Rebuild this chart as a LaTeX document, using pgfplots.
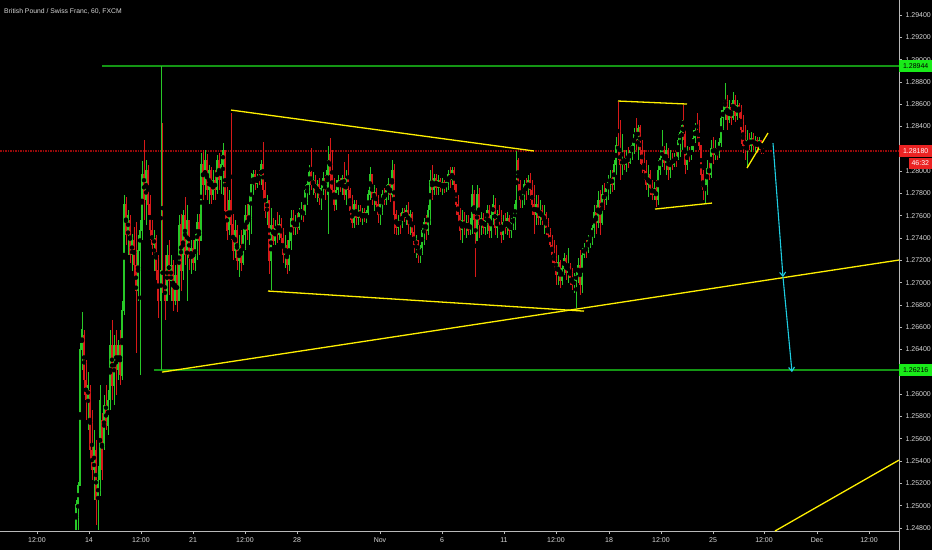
\documentclass[border=0pt]{standalone}
\usepackage{fontspec}
\setmainfont{Liberation Sans}
\usepackage{pgfplots}
\usepackage{pgfplotstable}
\pgfplotsset{compat=1.18}
\usetikzlibrary{arrows.meta}
\definecolor{cgreen}{RGB}{40,200,40}
\definecolor{cred}{RGB}{215,25,25}
\definecolor{hgreen}{RGB}{20,150,20}
\definecolor{hred}{RGB}{150,10,10}
\definecolor{lblgreen}{RGB}{25,235,25}
\definecolor{lblred}{RGB}{235,35,35}
\definecolor{ylw}{RGB}{255,240,0}
\definecolor{cyanc}{RGB}{30,205,225}
\definecolor{axgray}{RGB}{185,185,185}
\definecolor{ticktext}{RGB}{215,215,215}

\pgfplotstableread{
x o h l c
76 1.2478 1.2505 1.2478 1.2501
78 1.2501 1.2521 1.2478 1.2518
80 1.2518 1.2646 1.2518 1.2640
82 1.2640 1.2674 1.2622 1.2658
84 1.2653 1.2658 1.2599 1.2613
86 1.2613 1.2631 1.2577 1.2595
88 1.2595 1.2620 1.2568 1.2608
90 1.2604 1.2608 1.2541 1.2550
92 1.2550 1.2586 1.2523 1.2532
94 1.2532 1.2568 1.2505 1.2554
96 1.2550 1.2559 1.2483 1.2505
98 1.2505 1.2536 1.2478 1.2523
100 1.2523 1.2608 1.2509 1.2595
102 1.2577 1.2583 1.2523 1.2532
104 1.2554 1.2599 1.2550 1.2590
106 1.2590 1.2608 1.2568 1.2572
108 1.2572 1.2604 1.2563 1.2595
110 1.2595 1.2658 1.2586 1.2644
112 1.2644 1.2667 1.2595 1.2608
114 1.2608 1.2653 1.2590 1.2644
116 1.2644 1.2658 1.2599 1.2622
118 1.2622 1.2649 1.2613 1.2644
120 1.2644 1.2658 1.2608 1.2617
122 1.2617 1.2684 1.2613 1.2675
124 1.2675 1.2779 1.2671 1.2770
126 1.2770 1.2777 1.2734 1.2743
128 1.2743 1.2765 1.2725 1.2761
130 1.2756 1.2761 1.2718 1.2725
132 1.2725 1.2744 1.2711 1.2738
134 1.2738 1.2750 1.2705 1.2716
136 1.2716 1.2754 1.2637 1.2693
138 1.2693 1.2743 1.2684 1.2729
140 1.2729 1.2756 1.2617 1.2747
142 1.2747 1.2809 1.2738 1.2797
144 1.2797 1.2828 1.2756 1.2774
146 1.2774 1.2810 1.2752 1.2801
148 1.2801 1.2806 1.2761 1.2770
150 1.2770 1.2779 1.2738 1.2747
152 1.2747 1.2756 1.2725 1.2734
154 1.2734 1.2747 1.2711 1.2740
156 1.2740 1.2743 1.2702 1.2711
158 1.2711 1.2725 1.2668 1.2684
161 1.2684 1.2894 1.2622 1.2711
162.5 1.2720 1.2843 1.2691 1.2698
165 1.2698 1.2725 1.2667 1.2684
167 1.2684 1.2734 1.2684 1.2725
169 1.2725 1.2738 1.2689 1.2702
171 1.2702 1.2725 1.2684 1.2716
173 1.2716 1.2720 1.2675 1.2684
175 1.2684 1.2716 1.2680 1.2707
177 1.2707 1.2718 1.2674 1.2684
179 1.2684 1.2761 1.2684 1.2752
181 1.2752 1.2762 1.2693 1.2711
183 1.2711 1.2765 1.2702 1.2761
185 1.2761 1.2777 1.2716 1.2725
187 1.2725 1.2770 1.2684 1.2756
189 1.2756 1.2756 1.2711 1.2722
191 1.2722 1.2738 1.2708 1.2731
193 1.2731 1.2738 1.2711 1.2718
195 1.2718 1.2744 1.2711 1.2738
197 1.2738 1.2762 1.2720 1.2754
199 1.2754 1.2762 1.2725 1.2738
201 1.2738 1.2816 1.2738 1.2806
203 1.2806 1.2819 1.2774 1.2788
205 1.2788 1.2819 1.2779 1.2810
207 1.2810 1.2815 1.2774 1.2783
209 1.2783 1.2806 1.2771 1.2801
211 1.2801 1.2804 1.2771 1.2779
213 1.2779 1.2801 1.2774 1.2792
215 1.2792 1.2801 1.2774 1.2783
217 1.2783 1.2815 1.2780 1.2810
219 1.2810 1.2816 1.2783 1.2792
221 1.2792 1.2815 1.2780 1.2806
223 1.2806 1.2825 1.2779 1.2819
225 1.2819 1.2819 1.2756 1.2765
227 1.2765 1.2786 1.2738 1.2747
229 1.2747 1.2783 1.2743 1.2774
231 1.2774 1.2852 1.2738 1.2752
233 1.2752 1.2762 1.2720 1.2729
235 1.2729 1.2756 1.2722 1.2747
237 1.2747 1.2752 1.2711 1.2720
239 1.2720 1.2743 1.2705 1.2734
241 1.2734 1.2747 1.2711 1.2718
243 1.2718 1.2750 1.2716 1.2743
245 1.2743 1.2770 1.2729 1.2761
247 1.2761 1.2771 1.2738 1.2747
249 1.2747 1.2779 1.2734 1.2770
251 1.2770 1.2798 1.2744 1.2788
253 1.2788 1.2801 1.2779 1.2797
255 1.2797 1.2801 1.2783 1.2789
257 1.2789 1.2798 1.2785 1.2794
259 1.2794 1.2801 1.2788 1.2792
261 1.2792 1.2810 1.2788 1.2806
263 1.2806 1.2826 1.2774 1.2783
265 1.2783 1.2790 1.2758 1.2765
267 1.2765 1.2779 1.2752 1.2774
269 1.2774 1.2774 1.2708 1.2720
271 1.2720 1.2767 1.2693 1.2752
273 1.2752 1.2758 1.2734 1.2738
275 1.2738 1.2756 1.2734 1.2749
277 1.2749 1.2763 1.2736 1.2743
279 1.2743 1.2761 1.2738 1.2752
281 1.2752 1.2758 1.2736 1.2740
283 1.2740 1.2749 1.2718 1.2725
285 1.2725 1.2743 1.2713 1.2734
287 1.2734 1.2738 1.2708 1.2716
289 1.2716 1.2747 1.2711 1.2738
291 1.2738 1.2765 1.2729 1.2758
293 1.2758 1.2765 1.2743 1.2749
295 1.2749 1.2761 1.2743 1.2754
297 1.2754 1.2763 1.2744 1.2749
299 1.2749 1.2767 1.2747 1.2763
301 1.2763 1.2772 1.2756 1.2765
303 1.2765 1.2770 1.2754 1.2761
305 1.2761 1.2788 1.2761 1.2783
307 1.2783 1.2794 1.2770 1.2788
309 1.2788 1.2806 1.2779 1.2799
311 1.2799 1.2821 1.2783 1.2788
313 1.2788 1.2799 1.2779 1.2792
315 1.2792 1.2797 1.2776 1.2781
317 1.2781 1.2792 1.2772 1.2788
319 1.2788 1.2794 1.2770 1.2776
321 1.2776 1.2790 1.2765 1.2785
323 1.2785 1.2799 1.2779 1.2794
325 1.2794 1.2797 1.2774 1.2783
327 1.2783 1.2810 1.2779 1.2801
328.5 1.2801 1.2823 1.2744 1.2815
330 1.2815 1.2830 1.2783 1.2797
332 1.2797 1.2819 1.2779 1.2783
334 1.2783 1.2794 1.2764 1.2770
336 1.2770 1.2792 1.2765 1.2783
338 1.2783 1.2797 1.2779 1.2792
340 1.2792 1.2794 1.2781 1.2787
342 1.2787 1.2797 1.2779 1.2794
344 1.2794 1.2808 1.2774 1.2779
346 1.2779 1.2801 1.2770 1.2794
348 1.2794 1.2815 1.2774 1.2783
350 1.2783 1.2785 1.2756 1.2765
352 1.2765 1.2779 1.2749 1.2754
354 1.2754 1.2774 1.2749 1.2770
356 1.2770 1.2774 1.2752 1.2758
358 1.2758 1.2770 1.2752 1.2765
360 1.2765 1.2770 1.2754 1.2758
362 1.2758 1.2767 1.2752 1.2763
364 1.2763 1.2767 1.2754 1.2758
366 1.2758 1.2765 1.2754 1.2763
368 1.2763 1.2783 1.2761 1.2779
370 1.2779 1.2804 1.2774 1.2797
372 1.2797 1.2797 1.2770 1.2776
374 1.2776 1.2788 1.2764 1.2781
376 1.2781 1.2785 1.2765 1.2770
378 1.2770 1.2779 1.2754 1.2761
380 1.2761 1.2774 1.2752 1.2770
382 1.2770 1.2783 1.2761 1.2779
384 1.2779 1.2785 1.2770 1.2774
386 1.2774 1.2788 1.2770 1.2783
388 1.2783 1.2794 1.2774 1.2788
390 1.2788 1.2792 1.2772 1.2779
392 1.2779 1.2810 1.2774 1.2801
394 1.2801 1.2806 1.2744 1.2761
396 1.2761 1.2765 1.2743 1.2749
398 1.2749 1.2761 1.2743 1.2756
400 1.2756 1.2763 1.2744 1.2752
402 1.2752 1.2767 1.2749 1.2763
404 1.2763 1.2767 1.2754 1.2758
406 1.2758 1.2770 1.2752 1.2765
408 1.2765 1.2772 1.2744 1.2752
410 1.2752 1.2765 1.2743 1.2761
412 1.2761 1.2763 1.2740 1.2745
414 1.2745 1.2752 1.2727 1.2734
416 1.2734 1.2743 1.2722 1.2738
418 1.2738 1.2738 1.2718 1.2725
420 1.2725 1.2734 1.2718 1.2731
422 1.2731 1.2752 1.2725 1.2747
424 1.2747 1.2758 1.2734 1.2754
426 1.2754 1.2761 1.2738 1.2747
428 1.2747 1.2770 1.2743 1.2765
430 1.2765 1.2801 1.2752 1.2792
432 1.2792 1.2806 1.2774 1.2783
434 1.2783 1.2798 1.2779 1.2794
436 1.2794 1.2798 1.2779 1.2785
438 1.2785 1.2797 1.2779 1.2792
440 1.2792 1.2794 1.2781 1.2785
442 1.2785 1.2794 1.2779 1.2790
444 1.2790 1.2792 1.2780 1.2785
446 1.2785 1.2794 1.2781 1.2790
448 1.2790 1.2801 1.2783 1.2797
450 1.2797 1.2804 1.2785 1.2792
452 1.2792 1.2804 1.2788 1.2801
454 1.2801 1.2804 1.2783 1.2788
456 1.2788 1.2788 1.2761 1.2770
458 1.2770 1.2779 1.2754 1.2761
460 1.2761 1.2767 1.2738 1.2747
462 1.2747 1.2765 1.2736 1.2756
464 1.2756 1.2763 1.2743 1.2749
466 1.2749 1.2761 1.2740 1.2754
468 1.2754 1.2761 1.2743 1.2747
470 1.2747 1.2758 1.2743 1.2752
472 1.2752 1.2788 1.2744 1.2779
474 1.2779 1.2783 1.2744 1.2756
475.5 1.2756 1.2761 1.2705 1.2738
477 1.2738 1.2788 1.2738 1.2779
479 1.2779 1.2785 1.2740 1.2752
481 1.2752 1.2763 1.2743 1.2758
483 1.2758 1.2763 1.2744 1.2749
485 1.2749 1.2761 1.2743 1.2756
487 1.2756 1.2770 1.2744 1.2765
489 1.2765 1.2770 1.2740 1.2747
491 1.2747 1.2765 1.2740 1.2761
493 1.2761 1.2779 1.2752 1.2770
495 1.2770 1.2776 1.2743 1.2749
497 1.2749 1.2765 1.2740 1.2761
499 1.2761 1.2770 1.2747 1.2752
501 1.2752 1.2765 1.2736 1.2743
503 1.2743 1.2761 1.2738 1.2754
505 1.2754 1.2763 1.2744 1.2749
507 1.2749 1.2763 1.2743 1.2758
509 1.2758 1.2761 1.2740 1.2747
511 1.2747 1.2758 1.2740 1.2754
513 1.2754 1.2763 1.2747 1.2758
515 1.2758 1.2774 1.2747 1.2770
516.5 1.2770 1.2818 1.2761 1.2810
518 1.2810 1.2812 1.2779 1.2788
520 1.2788 1.2792 1.2767 1.2774
522 1.2774 1.2785 1.2767 1.2779
524 1.2779 1.2792 1.2770 1.2788
526 1.2788 1.2794 1.2774 1.2783
528 1.2783 1.2797 1.2779 1.2792
530 1.2792 1.2798 1.2774 1.2783
532 1.2783 1.2792 1.2761 1.2770
534 1.2770 1.2788 1.2744 1.2761
536 1.2761 1.2779 1.2752 1.2770
538 1.2770 1.2779 1.2752 1.2758
540 1.2758 1.2774 1.2752 1.2765
542 1.2765 1.2770 1.2752 1.2756
544 1.2756 1.2770 1.2744 1.2761
546 1.2761 1.2763 1.2743 1.2749
548 1.2749 1.2758 1.2738 1.2743
550 1.2743 1.2749 1.2729 1.2734
552 1.2734 1.2743 1.2718 1.2725
554 1.2725 1.2738 1.2711 1.2718
556 1.2718 1.2734 1.2698 1.2707
558 1.2707 1.2725 1.2698 1.2718
560 1.2718 1.2720 1.2695 1.2702
562 1.2702 1.2718 1.2698 1.2713
564 1.2713 1.2727 1.2707 1.2722
566 1.2722 1.2725 1.2702 1.2709
568 1.2709 1.2731 1.2700 1.2716
570 1.2716 1.2718 1.2698 1.2704
572 1.2704 1.2713 1.2693 1.2698
574 1.2698 1.2709 1.2691 1.2702
576 1.2702 1.2711 1.2677 1.2707
578 1.2707 1.2722 1.2700 1.2716
580 1.2716 1.2729 1.2689 1.2698
582 1.2698 1.2731 1.2691 1.2725
584 1.2725 1.2736 1.2722 1.2731
586 1.2731 1.2738 1.2722 1.2729
588 1.2729 1.2743 1.2727 1.2738
590 1.2738 1.2744 1.2731 1.2742
592 1.2742 1.2752 1.2734 1.2749
594 1.2749 1.2770 1.2740 1.2763
596 1.2763 1.2770 1.2744 1.2754
598 1.2754 1.2782 1.2749 1.2774
600 1.2774 1.2783 1.2743 1.2754
602 1.2754 1.2788 1.2752 1.2779
604 1.2779 1.2789 1.2765 1.2774
606 1.2774 1.2789 1.2770 1.2785
608 1.2785 1.2797 1.2774 1.2790
610 1.2790 1.2801 1.2780 1.2794
612 1.2794 1.2801 1.2781 1.2788
614 1.2788 1.2810 1.2783 1.2806
616 1.2806 1.2831 1.2797 1.2823
618 1.2823 1.2862 1.2810 1.2819
620 1.2819 1.2846 1.2792 1.2806
622 1.2806 1.2833 1.2797 1.2810
624 1.2810 1.2819 1.2801 1.2806
626 1.2806 1.2819 1.2799 1.2812
628 1.2812 1.2822 1.2803 1.2808
630 1.2808 1.2823 1.2806 1.2819
632 1.2819 1.2828 1.2810 1.2823
634 1.2823 1.2839 1.2815 1.2833
636 1.2833 1.2848 1.2819 1.2828
638 1.2828 1.2841 1.2810 1.2839
640 1.2839 1.2841 1.2806 1.2819
642 1.2819 1.2828 1.2798 1.2806
644 1.2806 1.2819 1.2792 1.2800
646 1.2800 1.2810 1.2783 1.2788
648 1.2788 1.2806 1.2777 1.2797
650 1.2797 1.2801 1.2779 1.2785
652 1.2785 1.2792 1.2774 1.2779
654 1.2779 1.2790 1.2774 1.2785
656 1.2785 1.2792 1.2768 1.2774
658 1.2774 1.2810 1.2770 1.2801
660 1.2801 1.2819 1.2797 1.2812
662 1.2812 1.2837 1.2804 1.2819
664 1.2819 1.2823 1.2801 1.2808
666 1.2808 1.2825 1.2797 1.2819
668 1.2819 1.2821 1.2792 1.2801
670 1.2801 1.2819 1.2794 1.2810
672 1.2810 1.2816 1.2801 1.2806
674 1.2806 1.2816 1.2804 1.2812
676 1.2812 1.2819 1.2804 1.2810
678 1.2810 1.2833 1.2810 1.2828
680 1.2828 1.2840 1.2813 1.2835
682 1.2835 1.2846 1.2819 1.2841
683.5 1.2841 1.2859 1.2828 1.2833
685 1.2833 1.2837 1.2798 1.2806
687 1.2806 1.2823 1.2801 1.2819
689 1.2819 1.2822 1.2808 1.2815
691 1.2815 1.2823 1.2810 1.2819
693 1.2819 1.2837 1.2817 1.2830
695 1.2830 1.2843 1.2825 1.2837
697 1.2837 1.2852 1.2828 1.2833
699 1.2833 1.2846 1.2819 1.2823
701 1.2823 1.2823 1.2786 1.2797
703 1.2797 1.2801 1.2774 1.2783
705 1.2783 1.2797 1.2771 1.2788
707 1.2788 1.2810 1.2779 1.2803
709 1.2803 1.2810 1.2792 1.2797
711 1.2797 1.2828 1.2794 1.2821
713 1.2821 1.2831 1.2806 1.2815
715 1.2815 1.2828 1.2810 1.2821
717 1.2821 1.2822 1.2810 1.2815
719 1.2815 1.2830 1.2812 1.2826
721 1.2826 1.2855 1.2822 1.2848
723 1.2848 1.2864 1.2837 1.2855
725 1.2855 1.2879 1.2846 1.2864
727 1.2864 1.2868 1.2837 1.2846
729 1.2846 1.2864 1.2843 1.2857
731 1.2857 1.2861 1.2841 1.2848
733 1.2848 1.2871 1.2846 1.2864
735 1.2864 1.2868 1.2844 1.2850
737 1.2850 1.2864 1.2846 1.2859
739 1.2859 1.2861 1.2848 1.2853
741 1.2853 1.2859 1.2824 1.2837
743 1.2837 1.2850 1.2816 1.2823
745 1.2823 1.2841 1.2810 1.2819
747 1.2819 1.2837 1.2804 1.2828
749 1.2828 1.2834 1.2819 1.2823
751 1.2823 1.2835 1.2817 1.2830
753 1.2830 1.2834 1.2819 1.2823
755 1.2823 1.2832 1.2817 1.2828
757 1.2828 1.2831 1.2816 1.2821
759 1.2821 1.2831 1.2819 1.2828
761 1.2828 1.2828 1.2815 1.2819
763 1.2819 1.2821 1.2815 1.2818
}\candles

\pgfplotsset{
  candlepart/.style 2 args={only marks, mark=none,
    error bars/.cd, y dir=both, y explicit, error mark=none,
    error bar style={draw=#1, line width=#2}},
}

\begin{document}
\begin{tikzpicture}
\fill[black] (0,0) rectangle (932pt,550pt);
\begin{axis}[
  at={(0pt,550pt)}, anchor=north west,
  width=899pt, height=531pt, scale only axis,
  xmin=0, xmax=899, ymin=1.24773, ymax=1.29535,
  axis x line*=bottom, axis y line*=right,
  axis line style={draw=axgray, line width=0.8pt},
  clip=false,
  xtick={37,89,141,193,245,297,380,442,504,556,609,661,713,764,817,869},
  xticklabels={12:00,14,12:00,21,12:00,28,Nov,6,11,12:00,18,12:00,25,12:00,Dec,12:00},
  ytick={1.248,1.250,1.252,1.254,1.256,1.258,1.260,1.264,1.266,1.268,1.270,1.272,1.274,1.276,1.278,1.280,1.284,1.286,1.288,1.290,1.292,1.294},
  yticklabel style={/pgf/number format/fixed, /pgf/number format/fixed zerofill, /pgf/number format/precision=5, /pgf/number format/assume math mode=true},
  tick align=outside, major tick length=3pt,
  tick style={draw=axgray, line width=0.6pt},
  ticklabel style={font=\fontsize{7}{8}\selectfont, text=ticktext},
]
% horizontal levels
\addplot[hgreen, line width=1.2pt] coordinates {(102,1.28944) (899,1.28944)};
\addplot[hgreen, line width=1.2pt] coordinates {(154,1.26216) (899,1.26216)};
\addplot[hred, line width=1.2pt, dash pattern=on 1.5pt off 1pt] coordinates {(0,1.28180) (899,1.28180)};
% candles: wicks
\addplot[candlepart={cgreen}{0.8pt}] table[x=x,
  y expr={\thisrow{c}>=\thisrow{o} ? (\thisrow{h}+\thisrow{l})/2 : nan},
  y error expr={(\thisrow{h}-\thisrow{l})/2}] {\candles};
\addplot[candlepart={cred}{0.8pt}] table[x=x,
  y expr={\thisrow{c}<\thisrow{o} ? (\thisrow{h}+\thisrow{l})/2 : nan},
  y error expr={(\thisrow{h}-\thisrow{l})/2}] {\candles};
% candles: bodies
\addplot[candlepart={cgreen}{1.3pt}] table[x=x,
  y expr={\thisrow{c}>=\thisrow{o} ? (\thisrow{o}+\thisrow{c})/2 : nan},
  y error expr={abs(\thisrow{c}-\thisrow{o})/2+0.00002}] {\candles};
\addplot[candlepart={cred}{1.3pt}] table[x=x,
  y expr={\thisrow{c}<\thisrow{o} ? (\thisrow{o}+\thisrow{c})/2 : nan},
  y error expr={abs(\thisrow{c}-\thisrow{o})/2+0.00002}] {\candles};
% yellow trend lines
\addplot[ylw, line width=1.3pt] coordinates {(231,1.28548) (534,1.28181)};
\addplot[ylw, line width=1.3pt] coordinates {(268,1.26925) (584,1.26745)};
\addplot[ylw, line width=1.3pt] coordinates {(162,1.26198) (899,1.27203)};
\addplot[ylw, line width=1.3pt] coordinates {(618,1.28629) (687,1.28602)};
\addplot[ylw, line width=1.3pt] coordinates {(655,1.27660) (712,1.27714)};
\addplot[ylw, line width=1.3pt] coordinates {(747,1.28028) (768,1.28342)};
\addplot[ylw, line width=1.3pt] coordinates {(775,1.24773) (899,1.25409)};
% cyan projection arrows
\addplot[cyanc, line width=1.1pt, -{Straight Barb[length=4pt,width=6pt]}] coordinates {(773,1.28252) (783,1.27050)};
\addplot[cyanc, line width=1.1pt, -{Straight Barb[length=4pt,width=6pt]}] coordinates {(783,1.27050) (792,1.26198)};
% right axis line continues to bottom edge
\draw[axgray, line width=0.8pt] (axis cs:899,1.24773) -- ++(0pt,-19pt);
% price label boxes
\node[fill=lblgreen, text=black, inner sep=0pt, minimum width=33pt, minimum height=12pt, anchor=west, font=\fontsize{7}{8}\selectfont] at (axis cs:899,1.28944) {1.28944};
\node[fill=lblgreen, text=black, inner sep=0pt, minimum width=33pt, minimum height=12pt, anchor=west, font=\fontsize{7}{8}\selectfont] at (axis cs:899,1.26216) {1.26216};
\node[fill=lblred, text=white, inner sep=0pt, minimum width=33pt, minimum height=12pt, anchor=west, font=\fontsize{7}{8}\selectfont] at (axis cs:899,1.28180) {1.28180};
\node[fill=lblred, text=white, inner sep=0pt, minimum width=23pt, minimum height=11pt, anchor=east, font=\fontsize{7}{8}\selectfont] at (axis cs:932,1.28068) {46:32};
\end{axis}
\node[anchor=base west, text=ticktext, font=\fontsize{6.8}{8}\selectfont, inner sep=0pt] at (4pt,536pt) {British Pound / Swiss Franc, 60, FXCM};
\pgfresetboundingbox
\useasboundingbox (0,0) rectangle (932pt,550pt);
\end{tikzpicture}
\end{document}
